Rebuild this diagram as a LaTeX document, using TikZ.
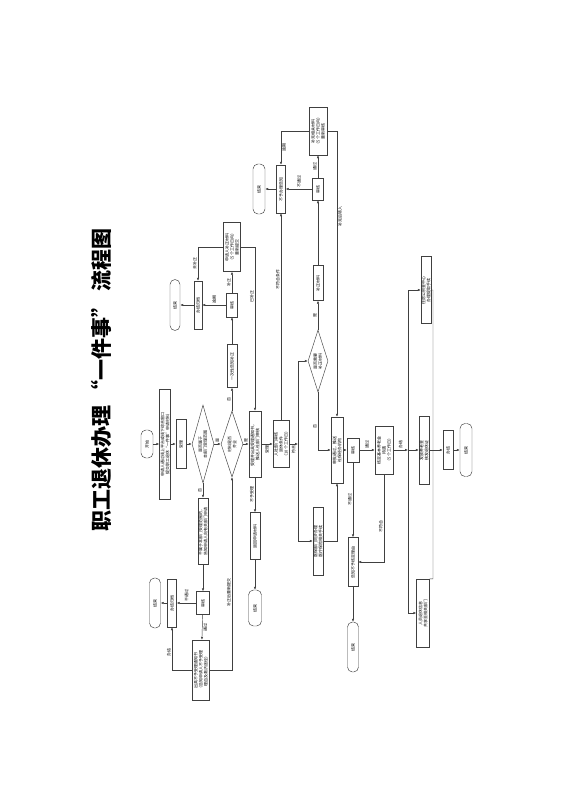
\documentclass[tikz,border=0pt]{standalone}
\usepackage{graphicx}
\usepackage{fontspec}
\usepackage{tikz}
\usetikzlibrary{arrows.meta,shapes.geometric}
\newfontfamily\cjk{Noto Sans CJK SC}
\XeTeXlinebreaklocale "zh"
\XeTeXlinebreakskip=0pt plus 1pt
\newcommand{\vtxt}[2]{\rotatebox{90}{\parbox{#1pt}{\centering #2}}}
\newcommand{\vlab}[1]{\rotatebox{90}{#1}}

\begin{document}
\begin{tikzpicture}[x=1pt,y=-1pt,>={Latex[length=3pt,width=2.4pt]},
  box/.style={draw=black!75,line width=0.45pt,inner sep=0pt,font=\cjk\fontsize{4}{5}\selectfont},
  term/.style={box,rounded corners=5pt},
  dec/.style={box,diamond},
  lbl/.style={inner sep=1pt,font=\cjk\fontsize{4}{5}\selectfont},
  line/.style={draw=black!75,line width=0.45pt}]
\useasboundingbox[fill=white] (0,0) rectangle (565,800);
\node[rotate=90,font=\cjk\bfseries\fontsize{21}{21}\selectfont] (title) at (101,380) {职工退休办理 “一件事” 流程图};

\node[term,minimum width=12,minimum height=28] (start) at (147,444) {\vtxt{24}{开始}};
\node[box,minimum width=11,minimum height=110] (sq) at (165,444) {\vtxt{96}{申请人通过线上平台或线下综合窗口\\提交职工退休“一件事”申请材料}};
\node[box,minimum width=10,minimum height=49] (sl) at (181,444) {\vtxt{45}{受理}};
\node[dec,aspect=0.282,minimum width=22,minimum height=78] (d1) at (203,444) {\vtxt{40}{是否属于\\本部门受理范围}};
\node[dec,aspect=0.333,minimum width=22,minimum height=66] (d2) at (232,444) {\vtxt{30}{材料是否\\齐全}};
\node[box,minimum width=10,minimum height=66] (bl) at (203,531) {\vtxt{62}{不属于本部门受理范围的，\\告知申请人向有关部门申请}};
\node[box,minimum width=13,minimum height=23] (sh1) at (203,603) {\vtxt{19}{审核}};
\node[box,minimum width=17,minimum height=60] (big) at (201,670) {\vtxt{56}{出具不予受理通知书\\（告知申请人不予受理\\理由及救济途径）}};
\node[box,minimum width=9,minimum height=48] (bj1) at (172,603) {\vtxt{44}{办结归档}};
\node[term,minimum width=11,minimum height=50] (end1) at (155,603) {\vtxt{46}{结束}};

\node[box,minimum width=10,minimum height=43] (bz) at (232,366) {\vtxt{39}{一次性告知补正}};
\node[box,minimum width=11,minimum height=24] (sh2) at (232,305) {\vtxt{20}{审核}};
\node[box,minimum width=8,minimum height=48] (bj2) at (198,305) {\vtxt{44}{办结归档}};
\node[term,minimum width=10,minimum height=51] (end2) at (175,305) {\vtxt{47}{结束}};
\node[box,minimum width=17,minimum height=49] (top2) at (232,247) {\vtxt{45}{申请人补正材料\\（5个工作日内）\\重新提交}};

\node[box,minimum width=12,minimum height=66] (b3) at (255,444) {\vtxt{62}{受理并出具受理通知书，\\推送人社部门审核}};
\node[box,minimum width=10,minimum height=47] (b3d) at (255,536) {\vtxt{43}{退回申请材料}};
\node[term,minimum width=13,minimum height=36] (end3) at (255,608) {\vtxt{32}{结束}};
\node[box,minimum width=16,minimum height=47] (b4) at (281,444) {\vtxt{43}{人社部门审核\\退休条件\\（10个工作日）}};
\node[box,minimum width=9,minimum height=48] (t4) at (281,189) {\vtxt{44}{不予办理告知}};
\node[term,minimum width=12,minimum height=50] (end4) at (259,189) {\vtxt{46}{结束}};
\node[box,minimum width=11,minimum height=22] (sh4) at (318,189) {\vtxt{18}{审核}};
\node[box,minimum width=18,minimum height=48] (top4) at (318,131) {\vtxt{44}{补充相关材料\\（5个工作日内）\\重新审核}};
\node[box,minimum width=10,minimum height=35] (b5u) at (318,283) {\vtxt{31}{补正材料}};
\node[dec,aspect=0.32,minimum width=20,minimum height=62] (d3) at (318,361) {\vtxt{30}{是否需要\\补正材料}};
\node[box,minimum width=10,minimum height=68] (b5d) at (318,541) {\vtxt{64}{医保部门同步办理\\医疗保险相关手续}};

\node[box,minimum width=12,minimum height=66] (b5) at (337,450) {\vtxt{62}{审批通过，推送\\社保经办机构}};
\node[box,minimum width=12,minimum height=24] (sh5) at (353,450) {\vtxt{20}{审核}};
\node[box,minimum width=18,minimum height=48] (b6) at (384,450) {\vtxt{44}{核定基本养老金\\待遇\\（5个工作日）}};
\node[box,minimum width=10,minimum height=49] (b6d) at (353,562) {\vtxt{45}{告知不予核定理由}};
\node[term,minimum width=11,minimum height=50] (end5) at (353,647) {\vtxt{46}{结束}};

\node[box,minimum width=10,minimum height=67] (b7top) at (426,290) {\vtxt{63}{住房公积金中心\\办理提取手续}};
\node[box,minimum width=10,minimum height=68] (b7) at (424,450) {\vtxt{64}{发放养老金\\核发退休证}};
\node[box,minimum width=13,minimum height=68] (b7bot) at (423,613) {\vtxt{64}{人员退休信息\\共享至相关部门}};
\node[box,minimum width=10,minimum height=39] (b8) at (448,450) {\vtxt{35}{办结}};
\node[term,minimum width=12,minimum height=53] (end6) at (466,450) {\vtxt{49}{结束}};

\coordinate (j1) at (298,444);
\coordinate (j2) at (408,450);
\coordinate (r7) at (433,579);

\draw[line,->] (start) -- (sq);
\draw[line,->] (sq) -- (sl);
\draw[line,->] (sl) -- (d1);
\draw[line,->] (d1) -- node[lbl,above]{\vlab{是}} (d2);
\draw[line,->] (d1) -- node[lbl,left]{\vlab{否}} (bl);
\draw[line,->] (bl) -- (sh1);
\draw[line,->] (sh1) -- node[lbl,above]{\vlab{不通过}} (bj1);
\draw[line,->] (bj1) -- (end1);
\draw[line,->] (sh1) -- node[lbl,right]{\vlab{通过}} (big);
\draw[line,->] (big) -| node[lbl,left,pos=0.7]{\vlab{办结}} (bj1);
\draw[line,->] (big) -| node[lbl,left,pos=0.7]{\vlab{补正后重新提交}} (d2);
\draw[line,->] (d2) -- node[lbl,left]{\vlab{否}} (bz);
\draw[line,->] (d2) -- node[lbl,above]{\vlab{是}} (b3);
\draw[line,->] (bz) -- (sh2);
\draw[line,->] (sh2) -- node[lbl,above]{\vlab{逾期}} (bj2);
\draw[line,->] (bj2) -- (end2);
\draw[line,->] (sh2) -- node[lbl,left]{\vlab{补正}} (top2);
\draw[line,->] (top2) -| node[lbl,left,pos=0.75]{\vlab{未补正}} (bj2);
\draw[line,->] (top2) -| node[lbl,left,pos=0.65]{\vlab{已补正}} (b3);

\draw[line,->] (b3) -- node[lbl,left]{\vlab{不予受理}} (b3d);
\draw[line,->] (b3d) -- (end3);
\draw[line,->] (b3) -- node[lbl,below]{\vlab{受理}} (b4);
\draw[line,->] (b4) -- node[lbl,below]{\vlab{符合}} (j1);
\draw[line,->] (j1) |- (d3);
\draw[line,->] (j1) |- (b5d);
\draw[line,->] (b4) -- node[lbl,left,pos=0.68]{\vlab{不符合条件}} (t4);
\draw[line,->] (t4) -- (end4);
\draw[line,->] (sh4) -- node[lbl,above]{\vlab{不通过}} (t4);
\draw[line,->] (sh4) -- node[lbl,left]{\vlab{通过}} (top4);
\draw[line,->] (top4) -| node[lbl,right,pos=0.75]{\vlab{逾期}} (t4);
\draw[line,->] (top4) -| node[lbl,right,pos=0.65]{\vlab{补充后转入}} (b5);
\draw[line,->] (b5u) -- (sh4);
\draw[line,->] (d3) -- node[lbl,left]{\vlab{是}} (b5u);
\draw[line,->] (d3) |- node[lbl,left,pos=0.3]{\vlab{否}} (b5);
\draw[line,->] (b5d) -| (b5);

\draw[line,->] (b5) -- (sh5);
\draw[line,->] (sh5) -- node[lbl,above]{\vlab{通过}} (b6);
\draw[line,->] (sh5) -- node[lbl,left]{\vlab{不通过}} (b6d);
\draw[line,->] (b6) |- node[lbl,left,pos=0.3]{\vlab{不符合}} (b6d);
\draw[line,->] (b6d) -- (end5);
\draw[line,->] (b6) -- node[lbl,above]{\vlab{办结}} (j2);
\draw[line,->] (j2) -- (b7);
\draw[line,->] (j2) |- (b7top);
\draw[line,->] (j2) |- (b7bot);
\draw[line] (b7top) -| (r7) -- (b7bot.north east);
\draw[line,->] (b7) -- (b8);
\draw[line,->] (b8) -- (end6);
\end{tikzpicture}
\end{document}
